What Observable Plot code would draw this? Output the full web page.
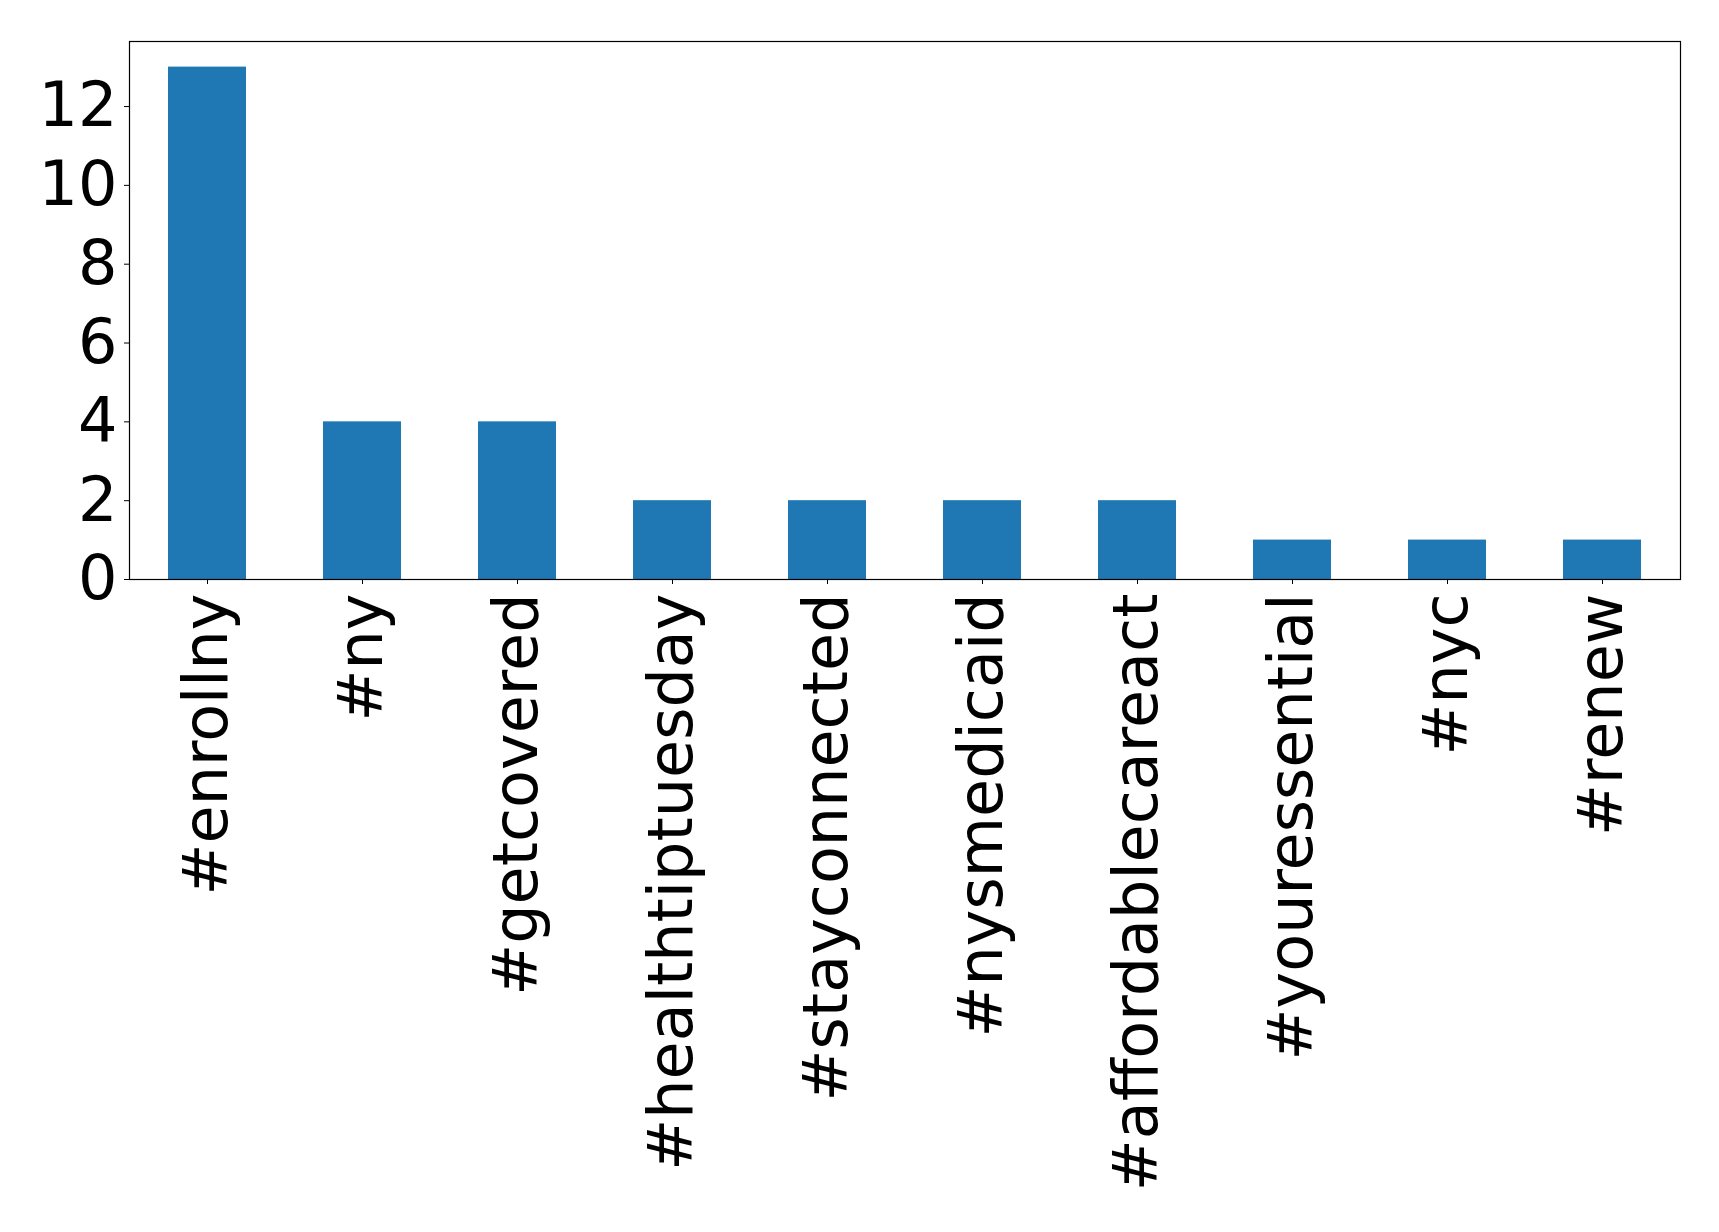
<!DOCTYPE html>
<html>
<head>
<meta charset="utf-8">
<script src="https://cdn.jsdelivr.net/npm/d3@7"></script>
<script src="https://cdn.jsdelivr.net/npm/@observablehq/plot@0.6"></script>
<style>
  html, body { margin: 0; padding: 0; background: #fff; }
</style>
</head>
<body>
<div id="chart"></div>
<script>
const hashtags = ["#enrollny", "#ny", "#getcovered", "#healthtiptuesday", "#stayconnected", "#nysmedicaid", "#affordablecareact", "#youressential", "#nyc", "#renew"];
const counts = [13, 4, 4, 2, 2, 2, 2, 1, 1, 1];
const yTicks = [0, 2, 4, 6, 8, 10, 12];

const data = hashtags.map((tag, i) => ({tag, count: counts[i]}));

const chart = Plot.plot({
  width: 1719,
  height: 1232,
  marginLeft: 129,
  marginRight: 39,
  marginTop: 41,
  marginBottom: 653,
  style: {background: "#fff", fontFamily: "DejaVu Sans", overflow: "visible"},
  x: {type: "band", domain: hashtags, paddingInner: 0.5, paddingOuter: 0.25, label: null},
  y: {domain: [0, 13.65], label: null},
  marks: [
    Plot.barY(data, {x: "tag", y: "count", fill: "#1f77b4"}),
    Plot.frame({stroke: "#000", strokeWidth: 1.2}),
    Plot.axisY({ticks: yTicks, tickSize: 5, tickPadding: 7, fontSize: 62, label: null, stroke: "#000", color: "#000"}),
    Plot.axisX({tickRotate: -90, tickSize: 5, tickPadding: 9, fontSize: 62, label: null, color: "#000"})
  ]
});
document.getElementById("chart").appendChild(chart);
</script>
</body>
</html>
